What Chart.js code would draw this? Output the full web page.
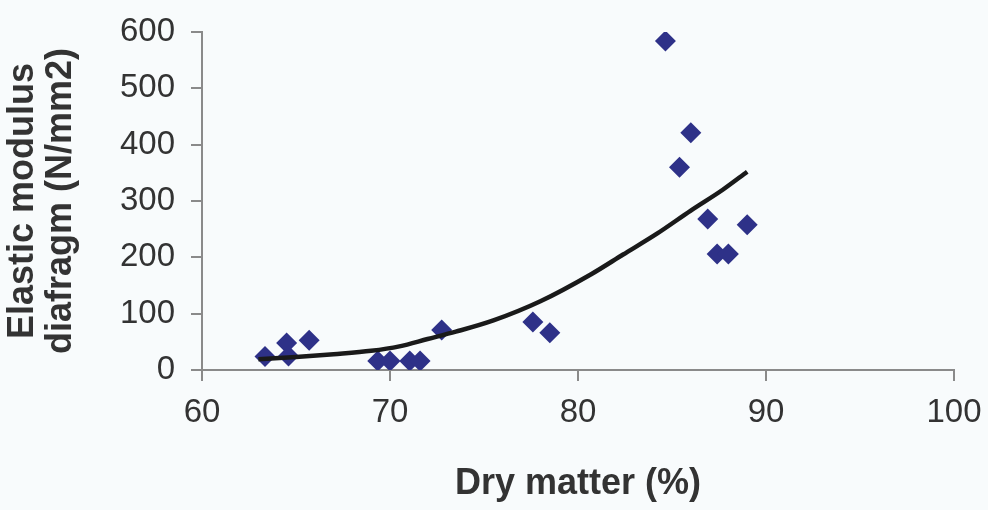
<!DOCTYPE html>
<html>
<head>
<meta charset="utf-8">
<script src="https://cdn.jsdelivr.net/npm/chart.js@4"></script>
<style>
  body { margin: 0; background: #f8fbfc; }
  canvas { display: block; }
</style>
</head>
<body>
<canvas id="grafico" width="988" height="510"></canvas>
<script>
// measured points
const dryMatter = [63.35, 64.5, 64.6, 65.7, 69.35, 70.0, 71.05, 71.6, 72.75, 77.6, 78.5, 84.65, 85.4, 86.0, 86.9, 87.4, 88.0, 89.0];
const elasticModulus = [24, 48, 25, 53, 16, 16, 16, 16, 71, 85, 66, 584, 360, 421, 268, 206, 206, 258];

// trend line
const trendX = [63.0, 65.0, 67.0, 69.0, 70.5, 72.0, 73.5, 75.5, 78.0, 80.7, 82.4, 84.2, 86.0, 87.7, 89.0];
const trendY = [19, 23, 28, 34, 42, 55, 68, 88, 122, 170, 205, 242, 283, 320, 352];

const xTicks = [60, 70, 80, 90, 100];
const yTicks = [0, 100, 200, 300, 400, 500, 600];

const eixoCor = '#8a8a8a';
const textoCor = '#333333';

function criarGrafico() {
    const pontos = dryMatter.map((x, i) => ({ x: x, y: elasticModulus[i] }));
    const linha = trendX.map((x, i) => ({ x: x, y: trendY[i] }));

    new Chart(document.getElementById('grafico'), {
        type: 'scatter',
        data: {
            datasets: [{
                data: pontos,
                pointStyle: 'rectRot',
                pointRadius: 10.5,
                backgroundColor: '#2e3188',
                borderWidth: 0,
                order: 1
            }, {
                type: 'line',
                data: linha,
                showLine: true,
                pointRadius: 0,
                borderColor: '#1a1a1a',
                borderWidth: 4.5,
                tension: 0.4,
                cubicInterpolationMode: 'monotone',
                fill: false,
                order: 0
            }]
        },
        options: {
            responsive: false,
            animation: false,
            layout: { padding: { top: 32, right: 34, left: 0, bottom: 0 } },
            plugins: { legend: { display: false }, tooltip: { enabled: false } },
            scales: {
                x: {
                    type: 'linear',
                    min: 60, max: 100,
                    afterBuildTicks: s => { s.ticks = xTicks.map(v => ({ value: v })); },
                    afterFit: s => { s.height = 140; s.paddingLeft = 0; s.paddingRight = 0; },
                    grid: { drawOnChartArea: false, tickLength: 11, color: eixoCor, lineWidth: 2 },
                    border: { color: eixoCor, width: 2 },
                    ticks: { color: textoCor, padding: 12, font: { family: 'Liberation Sans', size: 33 } },
                    title: {
                        display: true,
                        text: 'Dry matter (%)',
                        color: '#333',
                        padding: { top: 0, bottom: 6 },
                        font: { family: 'Liberation Sans', size: 36, weight: 'bold', lineHeight: 1.1 }
                    }
                },
                y: {
                    type: 'linear',
                    min: 0, max: 600,
                    afterBuildTicks: s => { s.ticks = yTicks.map(v => ({ value: v })); },
                    afterFit: s => { s.width = 202; s.paddingTop = 0; s.paddingBottom = 0; },
                    grid: { drawOnChartArea: false, tickLength: 11, color: eixoCor, lineWidth: 2 },
                    border: { color: eixoCor, width: 2 },
                    ticks: { color: textoCor, padding: 16, font: { family: 'Liberation Sans', size: 33 } },
                    title: {
                        display: true,
                        text: ['Elastic modulus', 'diafragm (N/mm2)'],
                        color: '#333',
                        padding: { top: 4, bottom: 0 },
                        font: { family: 'Liberation Sans', size: 36, weight: 'bold', lineHeight: 1.05 }
                    }
                }
            }
        }
    });
}

criarGrafico();
</script>
</body>
</html>
